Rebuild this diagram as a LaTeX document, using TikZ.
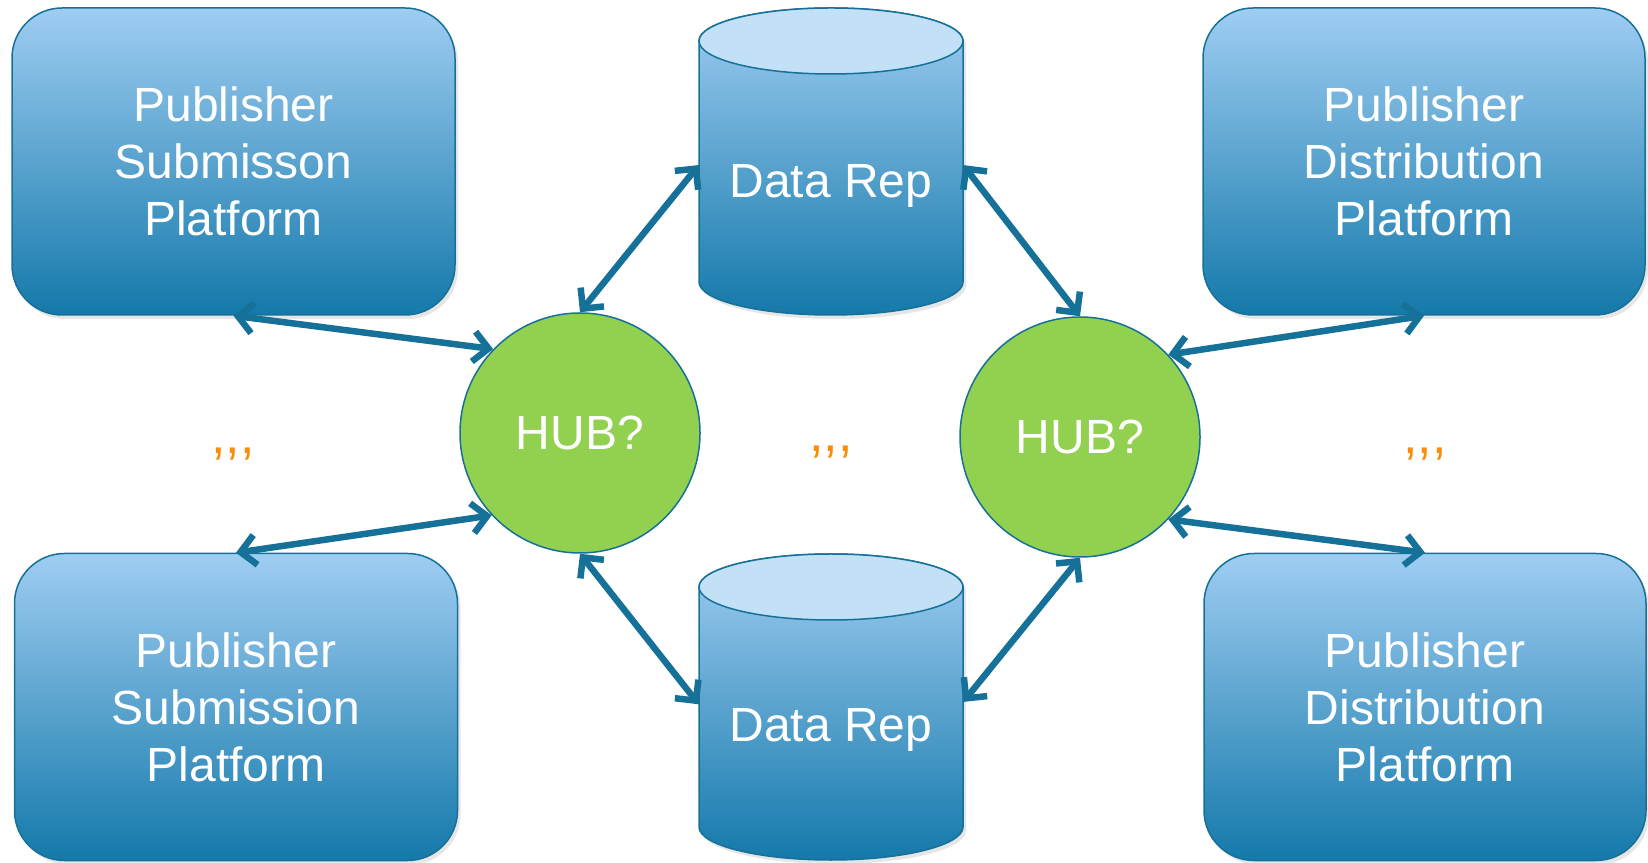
\documentclass[tikz,border=0pt]{standalone}
\usepackage{fontspec}
\setmainfont{Liberation Sans}
\usetikzlibrary{arrows.meta,shadows}
\definecolor{edgeblue}{RGB}{22,113,152}
\definecolor{boxtop}{RGB}{159,205,242}
\definecolor{boxbottom}{RGB}{20,121,170}
\definecolor{reptop}{RGB}{194,224,246}
\definecolor{hubgreen}{RGB}{146,208,80}
\definecolor{dotorange}{RGB}{250,140,10}

\begin{document}
\begin{tikzpicture}[x=1pt,y=1pt]
	\tikzstyle{platform} = [rectangle, rounded corners=50pt, draw=edgeblue, line width=1.5pt, top color=boxtop, bottom color=boxbottom, minimum width=443pt, minimum height=307pt, text=white, align=center, font=\fontsize{48}{57}\selectfont, drop shadow={opacity=0.2, shadow xshift=3pt, shadow yshift=-4pt}]
	\tikzstyle{hub} = [circle, draw=edgeblue, line width=1.5pt, fill=hubgreen, minimum size=240pt, inner sep=0pt, text=white, font=\fontsize{48}{57}\selectfont]
	\tikzstyle{reptext} = [rectangle, minimum width=264pt, minimum height=70pt, inner sep=0pt, text=white, font=\fontsize{48}{57}\selectfont]
	\tikzstyle{more} = [text=dotorange, font=\fontsize{52}{57}\selectfont]
	\tikzstyle{link} = [{Straight Barb[length=15pt,width=30pt]}-{Straight Barb[length=15pt,width=30pt]}, line width=6.5pt, draw=edgeblue]

	\useasboundingbox (0,0) rectangle (1648,862);

	% data repositories
	\foreach \yt/\yb in {854/547, 308/2} {
		\shade[top color=boxtop, bottom color=boxbottom, draw=edgeblue, line width=1.5pt, drop shadow={opacity=0.2, shadow xshift=3pt, shadow yshift=-4pt}]
			(699,\yt-33) -- (699,\yb+33) arc[start angle=180, end angle=360, x radius=132, y radius=33]
			-- (963,\yt-33) arc[start angle=0, end angle=180, x radius=132, y radius=33] -- cycle;
		\filldraw[fill=reptop, draw=edgeblue, line width=1.5pt] (831,\yt-33) ellipse[x radius=132, y radius=33];
	}
	\node[reptext] (rep1) at (831,676) {Data Rep};
	\node[reptext] (rep2) at (831,132) {Data Rep};

	\node[platform] (box1) at (233.5,700.5) {Publisher\\Submisson\\Platform};
	\node[platform] (box3) at (236,155) {Publisher\\Submission\\Platform};
	\node[platform, minimum width=442pt] (box2) at (1424,700.5) {Publisher\\Distribution\\Platform};
	\node[platform, minimum width=442pt] (box4) at (1425,155) {Publisher\\Distribution\\Platform};

	\node[hub] (hub1) at (580,429) {HUB?};
	\node[hub] (hub2) at (1080,425) {HUB?};

	\node[more] (more1) at (233,408) {,{},{},};
	\node[more] (more2) at (831,410) {,{},{},};
	\node[more] (more3) at (1425,408) {,{},{},};

	\draw[link] (box1.south) -- (hub1.136);
	\draw[link] (box3.north) -- (hub1.223);
	\draw[link] (rep1.171) -- (hub1.north);
	\draw[link] (rep2.169) -- (hub1.south);
	\draw[link] (rep1.9) -- (hub2.north);
	\draw[link] (rep2.12) -- (hub2.south);
	\draw[link] (hub2.43) -- (box2.south);
	\draw[link] (hub2.317) -- (box4.north);
\end{tikzpicture}
\end{document}
